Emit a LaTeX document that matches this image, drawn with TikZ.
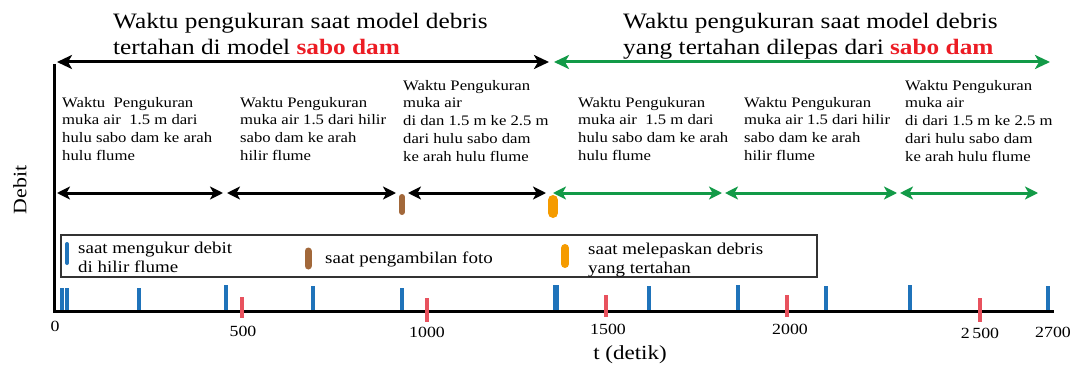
\documentclass[tikz,border=0pt]{standalone}
\usepackage{fontspec}
\setmainfont[FakeStretch=1.15]{Liberation Serif}
\usetikzlibrary{arrows.meta}
\definecolor{dgreen}{HTML}{129A47}
\definecolor{tblue}{HTML}{1F73BA}
\definecolor{tred}{HTML}{E8525E}
\definecolor{tbrown}{HTML}{A2683A}
\definecolor{torange}{HTML}{F59B00}
\definecolor{sred}{HTML}{EC1C24}
\definecolor{bordergray}{HTML}{333333}
\begin{document}
\begin{tikzpicture}[x=1pt,y=-1pt,
  title/.style={anchor=north west, inner sep=0pt, align=left, font=\fontsize{22}{26}\selectfont},
  blk/.style={anchor=north west, inner sep=0pt, align=left, font=\fontsize{14.5}{17.7}\selectfont},
  leg/.style={anchor=north west, inner sep=0pt, align=left, font=\fontsize{16.5}{19}\selectfont},
  tlab/.style={inner sep=0pt, font=\fontsize{15.5}{15.5}\selectfont},
  bigarr/.style={line width=3pt, {Stealth[length=15pt,width=14pt,inset=4pt]}-{Stealth[length=15pt,width=14pt,inset=4pt]}},
  midarr/.style={line width=3pt, {Stealth[length=13pt,width=13pt,inset=3.5pt]}-{Stealth[length=13pt,width=13pt,inset=3.5pt]}},
  btick/.style={tblue, line width=4pt},
  rtick/.style={tred, line width=4pt},
  mark/.style={line width=#1, line cap=round}
]
\useasboundingbox (0,0) rectangle (1078,369);

% titles
\node[title] (t1) at (113,13) {Waktu pengukuran saat model debris\\tertahan di model \textcolor{sred}{\textbf{sabo dam}}};
\node[title] (t2) at (623,13) {Waktu pengukuran saat model debris\\yang tertahan dilepas dari \textcolor{sred}{\textbf{sabo dam}}};

% top arrows
\coordinate (a1) at (57,62);
\coordinate (a2) at (549,62);
\coordinate (a3) at (554,62);
\coordinate (a4) at (1050,62);
\draw[bigarr, black] (a1) -- (a2);
\draw[bigarr, dgreen] (a3) -- (a4);

% axes
\coordinate (o) at (54,311);
\coordinate (ytop) at (54,64);
\coordinate (xend) at (1054,311);
\draw[line width=3pt, black] (ytop) -- (o) -- (xend);
\node[rotate=90, inner sep=0pt, font=\fontsize{19}{19}\selectfont] (ylab) at (20,190) {Debit};
\node[inner sep=0pt, font=\fontsize{20}{20}\selectfont] (xlab) at (630,355) {t (detik)};

% text blocks
\node[blk] (b1) at (62,97) {Waktu\ \ Pengukuran\\muka air\ \ 1.5 m dari\\hulu sabo dam ke arah\\hulu flume};
\node[blk] (b2) at (240,97) {Waktu Pengukuran\\muka air 1.5 dari hilir\\sabo dam ke arah\\hilir flume};
\node[blk] (b3) at (403,80) {Waktu Pengukuran\\muka air\\di dan 1.5 m ke 2.5 m\\dari hulu sabo dam\\ke arah hulu flume};
\node[blk] (b4) at (578,97) {Waktu Pengukuran\\muka air\ \ 1.5 m dari\\hulu sabo dam ke arah\\hulu flume};
\node[blk] (b5) at (744,97) {Waktu Pengukuran\\muka air 1.5 dari hilir\\sabo dam ke arah\\hilir flume};
\node[blk] (b6) at (905,80) {Waktu Pengukuran\\muka air\\di dari 1.5 m ke 2.5 m\\dari hulu sabo dam\\ke arah hulu flume};

% middle arrows
\coordinate (m0) at (57,193);
\coordinate (m1) at (223,193);
\coordinate (m2) at (227,193);
\coordinate (m3) at (396,193);
\coordinate (m4) at (408,193);
\coordinate (m5) at (546,193);
\coordinate (g0) at (553,193);
\coordinate (g1) at (722,193);
\coordinate (g2) at (725,193);
\coordinate (g3) at (897,193);
\coordinate (g4) at (900,193);
\coordinate (g5) at (1038,193);
\draw[midarr, black] (m0) -- (m1);
\draw[midarr, black] (m2) -- (m3);
\draw[midarr, black] (m4) -- (m5);
\draw[midarr, dgreen] (g0) -- (g1);
\draw[midarr, dgreen] (g2) -- (g3);
\draw[midarr, dgreen] (g4) -- (g5);

% markers on the middle line
\draw[mark=6pt, tbrown] (402,197) -- (402,212);
\draw[mark=10pt, torange] (553,200) -- (553,213);

% legend
\draw[bordergray, line width=2pt] (61,235) rectangle (817,277);
\draw[mark=4pt, tblue] (67,244) -- (67,263);
\node[leg] (l1) at (78,242) {saat mengukur debit\\di hilir flume};
\draw[mark=7pt, tbrown] (308,251) -- (308,266);
\node[leg] (l2) at (325,252) {saat pengambilan foto};
\draw[mark=8pt, torange] (565,248) -- (565,264);
\node[leg] (l3) at (588,243) {saat melepaskan debris\\yang tertahan};

% blue ticks
\foreach \x/\t in {62/288,67/288,139/288,226/285,313/286,402/288,649/286,738/285,826/286,910/285,1048/286}
  \draw[btick] (\x,\t) -- (\x,310);
\draw[tblue, line width=6pt] (556,285) -- (556,310);

% red ticks
\foreach \x/\a/\b in {242/297/318,427/298/322,606/295/317,787/295/317,980/298/322}
  \draw[rtick] (\x,\a) -- (\x,\b);

% tick labels
\node[tlab] (n0) at (55,326) {0};
\node[tlab] (n1) at (243,331) {500};
\node[tlab] (n2) at (427,332) {1000};
\node[tlab] (n3) at (608,329) {1500};
\node[tlab] (n4) at (790,329) {2000};
\node[tlab] (n5) at (980,333) {2\,500};
\node[tlab] (n6) at (1053,332) {2700};
\end{tikzpicture}
\end{document}
